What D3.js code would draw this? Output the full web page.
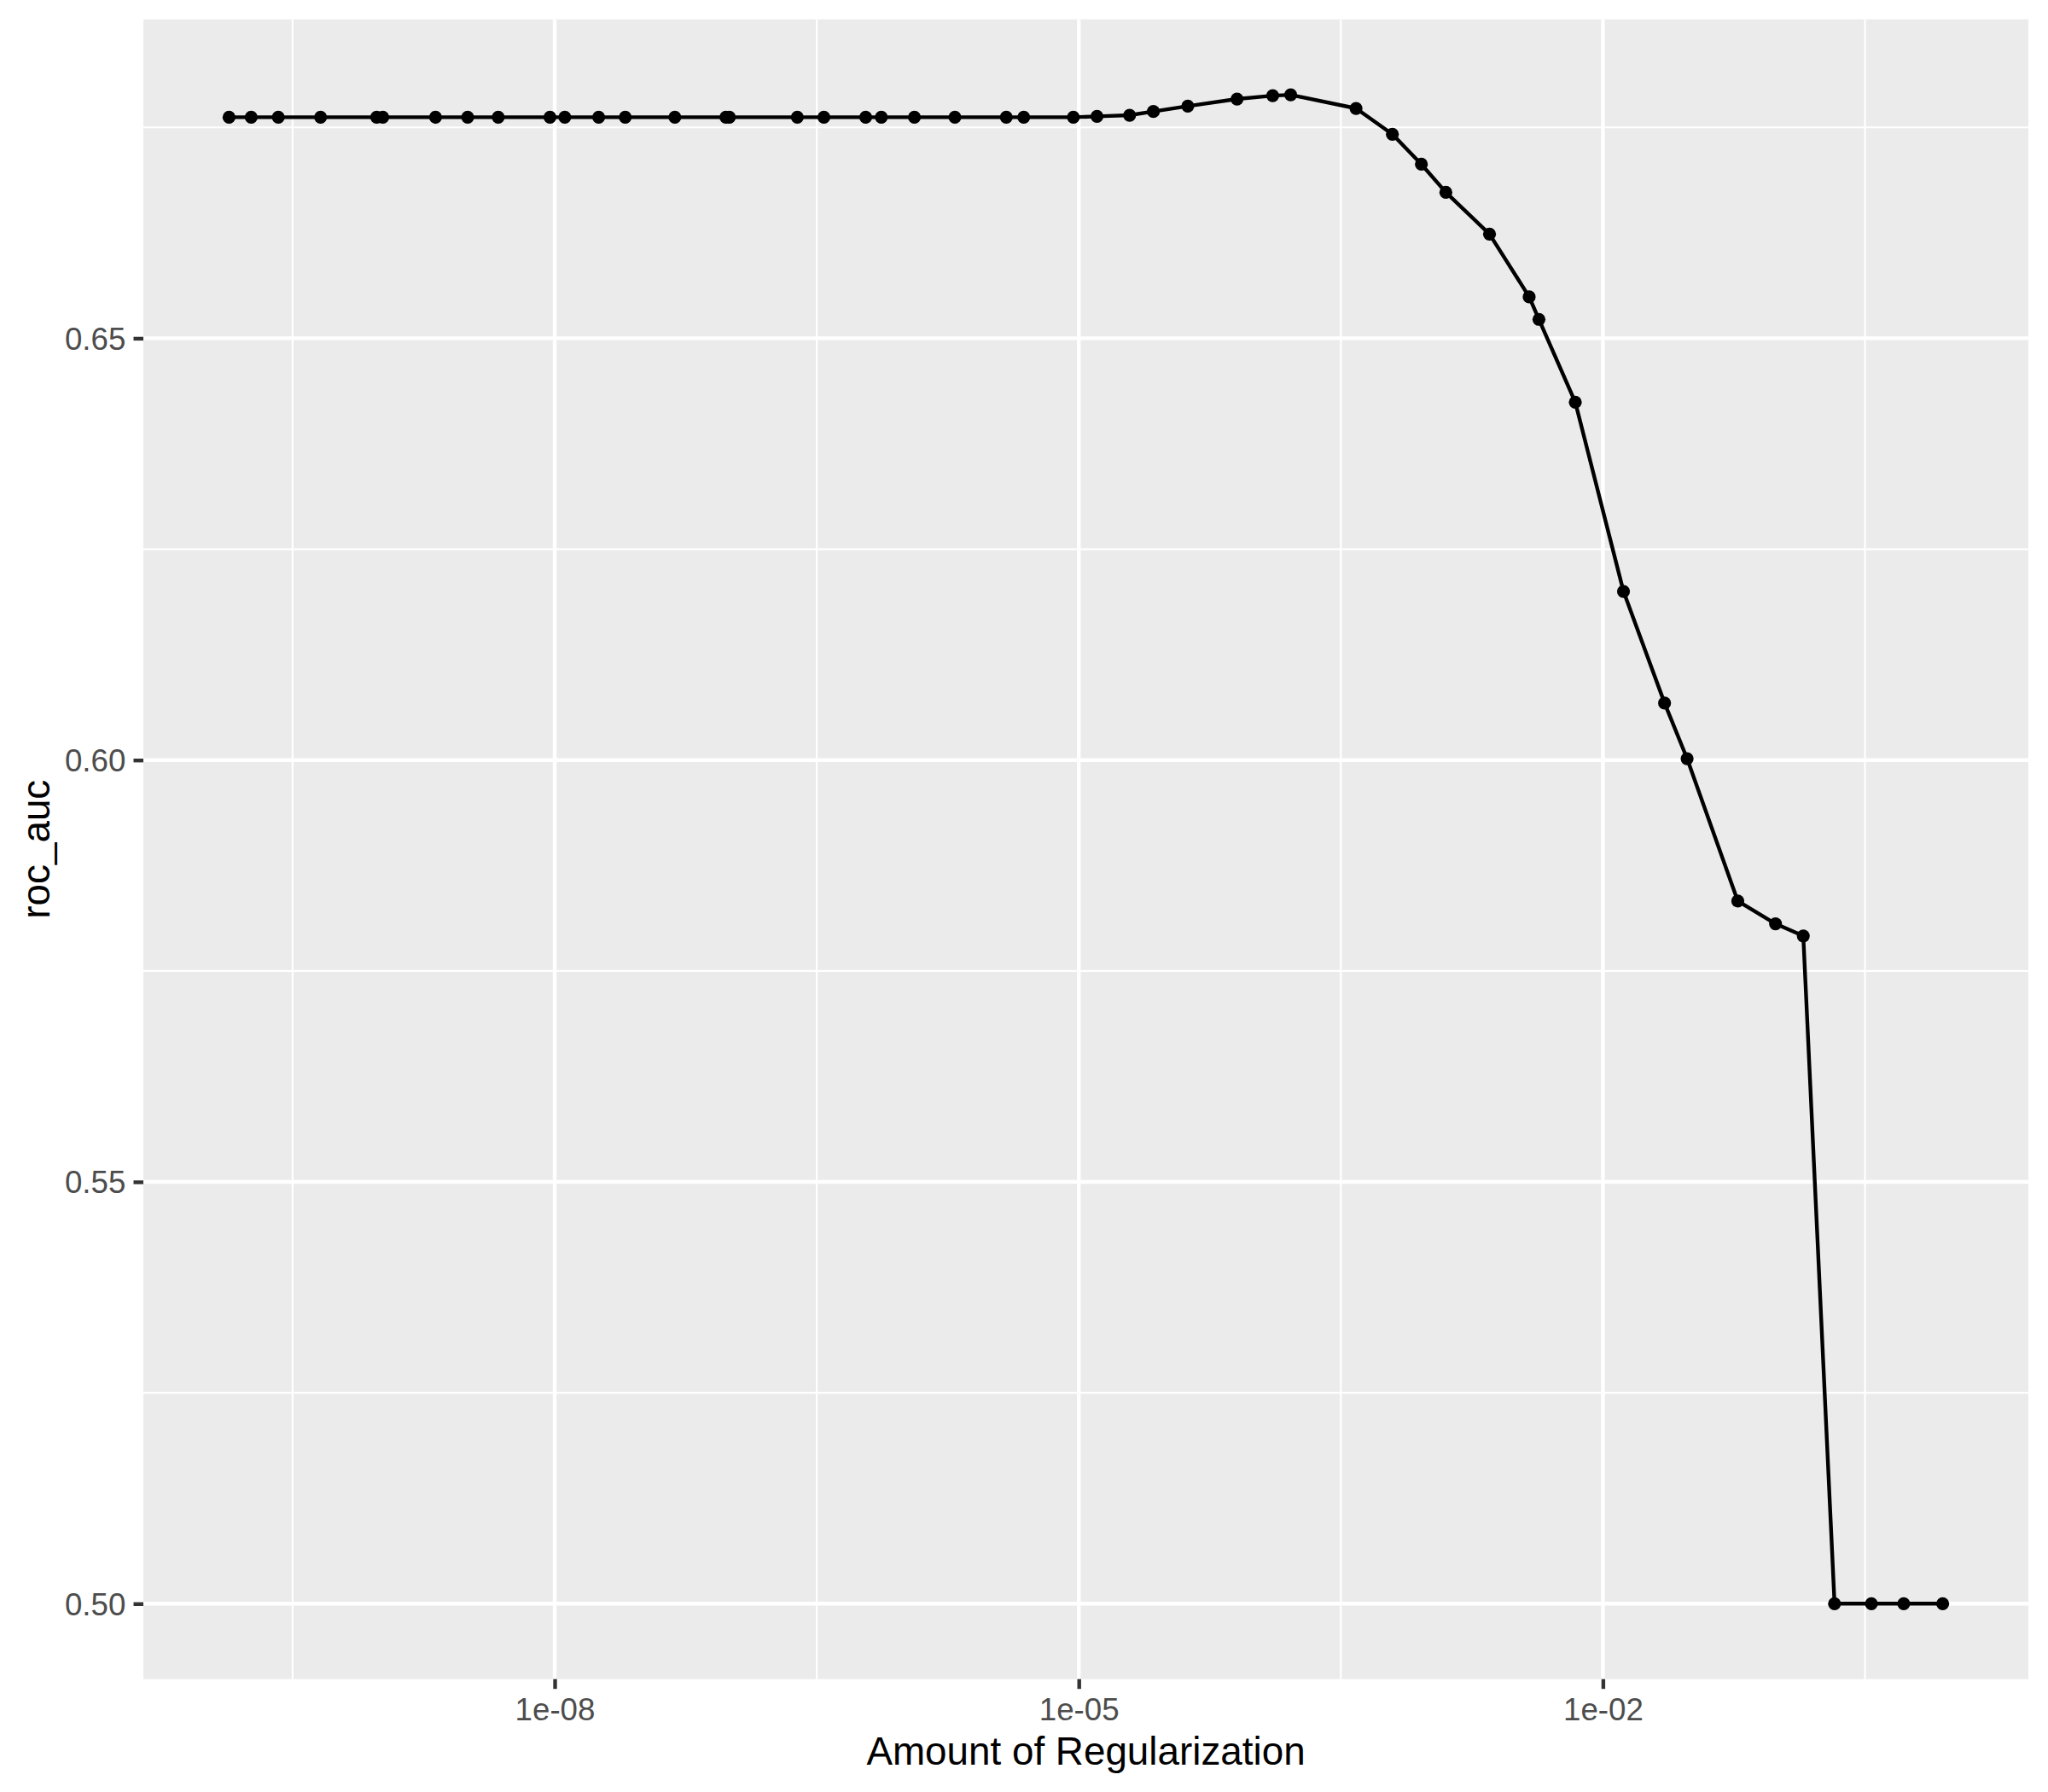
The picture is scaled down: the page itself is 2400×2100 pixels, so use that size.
<!DOCTYPE html>
<html>
<head>
<meta charset="utf-8">
<script src="https://cdn.jsdelivr.net/npm/d3@7"></script>
<style>
  html, body { margin: 0; padding: 0; background: #ffffff; }
  svg { display: block; }
</style>
</head>
<body>
<svg id="chart" width="2400" height="2100"></svg>
<script>
// ---- data ----
const penalty = [
  1.368e-10, 1.832e-10, 2.618e-10, 4.571e-10, 9.57e-10, 1.038e-9, 2.080e-9, 3.177e-9, 4.753e-9, 9.40e-9,
  1.143e-8, 1.786e-8, 2.535e-8, 4.875e-8, 9.55e-8, 1.0e-7, 2.449e-7, 3.475e-7, 6.03e-7, 7.41e-7,
  1.146e-6, 1.954e-6, 3.846e-6, 4.842e-6, 9.31e-6, 1.271e-5, 1.954e-5, 2.673e-5, 4.207e-5, 8.05e-5,
  1.288e-4, 1.633e-4, 3.864e-4, 6.237e-4, 9.14e-4, 1.262e-3, 2.244e-3, 3.784e-3, 4.305e-3, 6.950e-3,
  1.312e-2, 2.254e-2, 3.034e-2, 5.916e-2, 9.73e-2, 1.403e-1, 2.118e-1, 3.443e-1, 5.272e-1, 8.81e-1
];
const rocAuc = [
  0.6762, 0.6762, 0.6762, 0.6762, 0.6762, 0.6762, 0.6762, 0.6762, 0.6762, 0.6762,
  0.6762, 0.6762, 0.6762, 0.6762, 0.6762, 0.6762, 0.6762, 0.6762, 0.6762, 0.6762,
  0.6762, 0.6762, 0.6762, 0.6762, 0.6762, 0.6763, 0.67644, 0.67688, 0.67752, 0.67836,
  0.67876, 0.67886, 0.67725, 0.67419, 0.67063, 0.66730, 0.66235, 0.65491, 0.65224, 0.64242,
  0.61999, 0.60676, 0.60017, 0.58329, 0.58059, 0.57915, 0.5, 0.5, 0.5, 0.5
];
const xTickValues = [1e-8, 1e-5, 1e-2];
const xTickLabels = ["1e-08", "1e-05", "1e-02"];
const xMinorValues = [Math.pow(10, -9.5), Math.pow(10, -6.5), Math.pow(10, -3.5), Math.pow(10, -0.5)];
const yTickValues = [0.50, 0.55, 0.60, 0.65];
const yTickLabels = ["0.50", "0.55", "0.60", "0.65"];
const yMinorValues = [0.525, 0.575, 0.625, 0.675];
const xTitle = "Amount of Regularization";
const yTitle = "roc_auc";

// ---- layout ----
const W = 2400, H = 2100;
const panel = { left: 168, right: 2377, top: 22.7, bottom: 1967.7 };
const FONT = "'Liberation Sans', Arial, Helvetica, sans-serif";

const data = penalty.map((p, i) => ({ p: p, v: rocAuc[i] }));

// ggplot-like 5% expansion (in log space for x)
const lx = d3.extent(penalty, d => Math.log10(d));
const lpad = (lx[1] - lx[0]) * 0.05;
const x = d3.scaleLog()
  .domain([Math.pow(10, lx[0] - lpad), Math.pow(10, lx[1] + lpad)])
  .range([panel.left, panel.right]);
const ye = d3.extent(rocAuc);
const ypad = (ye[1] - ye[0]) * 0.05;
const y = d3.scaleLinear()
  .domain([ye[0] - ypad, ye[1] + ypad])
  .range([panel.bottom, panel.top]);

const svg = d3.select("#chart");
svg.append("rect").attr("width", W).attr("height", H).attr("fill", "#ffffff");

// panel background
svg.append("rect")
  .attr("x", panel.left).attr("y", panel.top)
  .attr("width", panel.right - panel.left).attr("height", panel.bottom - panel.top)
  .attr("fill", "#EBEBEB");

const grid = svg.append("g");
// minor grid
grid.selectAll("line.ymin").data(yMinorValues).enter().append("line")
  .attr("x1", panel.left).attr("x2", panel.right)
  .attr("y1", d => y(d)).attr("y2", d => y(d))
  .attr("stroke", "#ffffff").attr("stroke-width", 2.2);
grid.selectAll("line.xmin").data(xMinorValues).enter().append("line")
  .attr("y1", panel.top).attr("y2", panel.bottom)
  .attr("x1", d => x(d)).attr("x2", d => x(d))
  .attr("stroke", "#ffffff").attr("stroke-width", 2.2);
// major grid
grid.selectAll("line.ymaj").data(yTickValues).enter().append("line")
  .attr("x1", panel.left).attr("x2", panel.right)
  .attr("y1", d => y(d)).attr("y2", d => y(d))
  .attr("stroke", "#ffffff").attr("stroke-width", 4.4);
grid.selectAll("line.xmaj").data(xTickValues).enter().append("line")
  .attr("y1", panel.top).attr("y2", panel.bottom)
  .attr("x1", d => x(d)).attr("x2", d => x(d))
  .attr("stroke", "#ffffff").attr("stroke-width", 4.4);

// line + points
const line = d3.line().x(d => x(d.p)).y(d => y(d.v));
svg.append("path").datum(data)
  .attr("d", line)
  .attr("fill", "none")
  .attr("stroke", "#000000")
  .attr("stroke-width", 4.4)
  .attr("stroke-linejoin", "round");
svg.append("g").selectAll("circle").data(data).enter().append("circle")
  .attr("cx", d => x(d.p)).attr("cy", d => y(d.v))
  .attr("r", 7.6).attr("fill", "#000000");

// axes
const tickLen = 11.5;
const xAxis = d3.axisBottom(x)
  .tickValues(xTickValues)
  .tickFormat((d, i) => xTickLabels[i])
  .tickSize(tickLen).tickPadding(9.2);
const gx = svg.append("g").attr("transform", `translate(0,${panel.bottom})`).call(xAxis);
gx.select(".domain").remove();
gx.selectAll(".tick line").attr("stroke", "#333333").attr("stroke-width", 4.4);
gx.selectAll(".tick text")
  .attr("fill", "#4D4D4D").attr("font-family", FONT).attr("font-size", 36.7)
  .attr("dy", "0.76em");

const yAxis = d3.axisLeft(y)
  .tickValues(yTickValues)
  .tickFormat((d, i) => yTickLabels[i])
  .tickSize(tickLen).tickPadding(9.2);
const gy = svg.append("g").attr("transform", `translate(${panel.left},0)`).call(yAxis);
gy.select(".domain").remove();
gy.selectAll(".tick line").attr("stroke", "#333333").attr("stroke-width", 4.4);
gy.selectAll(".tick text")
  .attr("fill", "#4D4D4D").attr("font-family", FONT).attr("font-size", 36.7)
  .attr("dy", "0.35em");

// titles
svg.append("text")
  .attr("x", (panel.left + panel.right) / 2)
  .attr("y", 2068)
  .attr("text-anchor", "middle")
  .attr("font-family", FONT).attr("font-size", 45.8).attr("fill", "#000000")
  .text(xTitle);
svg.append("text")
  .attr("transform", `translate(58,${(panel.top + panel.bottom) / 2}) rotate(-90)`)
  .attr("text-anchor", "middle")
  .attr("font-family", FONT).attr("font-size", 45.8).attr("fill", "#000000")
  .text(yTitle);
</script>
</body>
</html>
